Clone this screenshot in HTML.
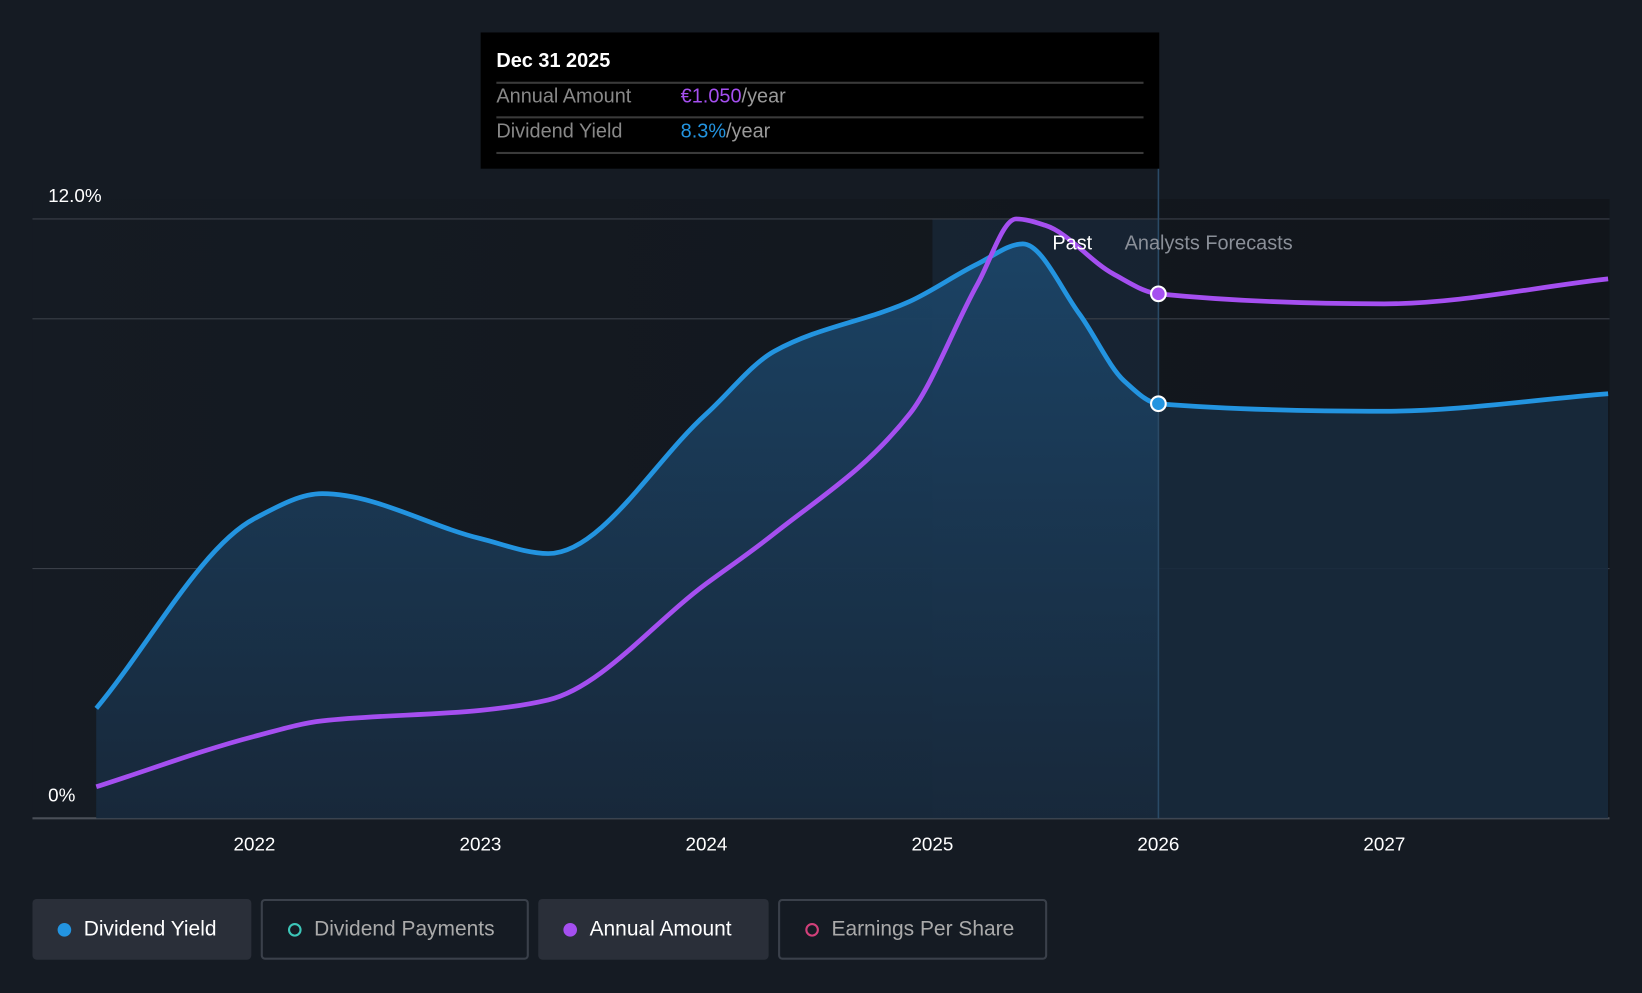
<!DOCTYPE html>
<html><head><meta charset="utf-8"><style>
html,body{margin:0;padding:0;background:#151b23;overflow:hidden}
#wrap{position:absolute;left:0;top:0;width:1568px;height:943px;transform-origin:0 0;transform:scale(1.04719,1.04772);font-family:"Liberation Sans",sans-serif}
.leg{position:absolute;top:858px;height:58px;border-radius:4px;box-sizing:border-box;display:flex;align-items:center;font-size:20px;color:#fff}
.dot{width:13px;height:13px;border-radius:50%;margin:0 12px 0 24px;box-sizing:border-box}
</style></head><body>
<div id="wrap">
<svg id="chart" width="1568" height="943"></svg>
<div style="position:absolute;left:459px;top:31px;width:648px;height:130px;background:#000">
 <div style="position:absolute;left:15px;top:17px;color:#fff;font-size:19px;font-weight:bold">Dec 31 2025</div>
 <div style="position:absolute;left:15px;right:15px;top:47px;border-top:2px solid #3a3a3a"></div>
 <div style="position:absolute;left:15px;top:51px;color:#888;font-size:19px">Annual Amount</div>
 <div style="position:absolute;left:191px;top:51px;color:#999;font-size:19px"><span style="color:#a54ff0">€1.050</span>/year</div>
 <div style="position:absolute;left:15px;right:15px;top:80px;border-top:2px solid #3a3a3a"></div>
 <div style="position:absolute;left:15px;top:84px;color:#888;font-size:19px">Dividend Yield</div>
 <div style="position:absolute;left:191px;top:84px;color:#999;font-size:19px"><span style="color:#2394e0">8.3%</span>/year</div>
 <div style="position:absolute;left:15px;right:15px;top:114px;border-top:2px solid #3a3a3a"></div>
</div>
<div class="leg" style="left:31px;width:209px;background:#2a2f39"><span class="dot" style="background:#2394e0"></span>Dividend Yield</div>
<div class="leg" style="left:249px;width:256px;border:2px solid #3a404a;color:#aaa"><span class="dot" style="border:2px solid #3cc6b8"></span>Dividend Payments</div>
<div class="leg" style="left:514px;width:220px;background:#2a2f39"><span class="dot" style="background:#a54ff0"></span>Annual Amount</div>
<div class="leg" style="left:743px;width:257px;border:2px solid #3a404a;color:#aaa"><span class="dot" style="border:2px solid #d2407a"></span>Earnings Per Share</div>
</div>
<script>
const yieldYears=[2021.3,2022,2022.3,2023,2023.3,2024,2024.3,2024.9,2025.2,2025.4,2025.65,2025.85,2026,2027,2027.99];
const yieldValues=[2.2,6.0,6.5,5.6,5.3,8.1,9.35,10.35,11.1,11.5,10.1,8.75,8.3,8.15,8.5];
const amountYears=[2021.3,2022,2022.3,2023,2023.3,2024,2024.3,2024.9,2025.2,2025.37,2025.5,2025.8,2026,2027,2027.99];
const amountValues=[0.063,0.164,0.195,0.216,0.237,0.47,0.57,0.81,1.07,1.2,1.187,1.09,1.05,1.03,1.08];
const xTicks=[2022,2023,2024,2025,2026,2027];
const yTicks=[0,5,10,12];
const NS="http://www.w3.org/2000/svg";
const svg=document.getElementById('chart');
const X=y=>243+(y-2022)*215.8;
const Y=v=>781-v*47.67;
const YA=v=>781-v*476.7;
function el(t,a,p){const e=document.createElementNS(NS,t);for(const k in a)e.setAttribute(k,a[k]);(p||svg).appendChild(e);return e;}
function mono(p){const n=p.length,dx=[],s=[],m=[];for(let i=0;i<n-1;i++){dx[i]=p[i+1][0]-p[i][0];s[i]=(p[i+1][1]-p[i][1])/dx[i];}
m[0]=s[0];m[n-1]=s[n-2];for(let i=1;i<n-1;i++){m[i]=s[i-1]*s[i]<=0?0:3*(dx[i-1]+dx[i])/((2*dx[i]+dx[i-1])/s[i-1]+(dx[i]+2*dx[i-1])/s[i]);}
let d=`M${p[0][0]},${p[0][1]}`;for(let i=0;i<n-1;i++){const h=dx[i]/3;d+=`C${p[i][0]+h},${p[i][1]+m[i]*h} ${p[i+1][0]-h},${p[i+1][1]-m[i+1]*h} ${p[i+1][0]},${p[i+1][1]}`;}return d;}
const defs=el('defs',{});
const g=el('linearGradient',{id:'ag',x1:0,y1:0,x2:0,y2:1},defs);
el('stop',{offset:0,'stop-color':'#1d4f78','stop-opacity':0.85},g);
el('stop',{offset:1,'stop-color':'#17283a','stop-opacity':0.8},g);
const bg=el('linearGradient',{id:'bg',x1:0,y1:0,x2:1,y2:0},defs);
el('stop',{offset:0,'stop-color':'#151b23'},bg);el('stop',{offset:1,'stop-color':'#11151b'},bg);
el('clipPath',{id:'cp'},defs).appendChild(document.createElementNS(NS,'rect'));
const cr=defs.querySelector('#cp rect');cr.setAttribute('x',0);cr.setAttribute('y',0);cr.setAttribute('width',X(2026));cr.setAttribute('height',943);
el('rect',{x:31,y:190,width:1506,height:591,fill:'url(#bg)'});
const past=el('rect',{x:X(2025),y:209,width:X(2026)-X(2025),height:572,fill:'#1a2a3a','fill-opacity':0.7});

yTicks.forEach(t=>{const l=el('line',{x1:31,x2:1537,y1:Y(t),y2:Y(t),stroke:t==0?'#4a4f58':'#3a3f48','stroke-width':t==0?2:1});});
[[0,'0%'],[12,'12.0%']].forEach(([v,s])=>{const t=el('text',{x:46,y:Y(v)-16,fill:'#fff','font-size':18});t.textContent=s;});
const yp=yieldYears.map((y,i)=>[X(y),Y(yieldValues[i])]);
const ap=amountYears.map((y,i)=>[X(y),YA(amountValues[i])]);
const areaD=mono(yp)+`L${yp[yp.length-1][0]},781L${yp[0][0]},781Z`;
const area=el('path',{d:areaD,fill:'#182a3d','fill-opacity':0.9});

const area2=el('path',{d:areaD,fill:'url(#ag)','fill-opacity':0.8,'clip-path':'url(#cp)'});

const vl=el('line',{x1:X(2026),x2:X(2026),y1:161,y2:781,stroke:'#2a4a66','stroke-width':1.5});

const ly=el('path',{d:mono(yp),fill:'none',stroke:'#2394e0','stroke-width':4.5});

const la=el('path',{d:mono(ap),fill:'none',stroke:'#a54ff0','stroke-width':4.5});

const iy=yieldYears.indexOf(2026),ia=amountYears.indexOf(2026);
const c1=el('circle',{cx:X(2026),cy:Y(yieldValues[iy]),r:7,fill:'#2394e0',stroke:'#fff','stroke-width':2});

const c2=el('circle',{cx:X(2026),cy:YA(amountValues[ia]),r:7,fill:'#a54ff0',stroke:'#fff','stroke-width':2});

xTicks.forEach(t=>{const e=el('text',{x:X(t),y:812,fill:'#fff','font-size':18,'text-anchor':'middle'});e.textContent=t;});
const tp=el('text',{x:1043,y:238,fill:'#fff','font-size':19,'text-anchor':'end'});tp.textContent='Past';

const tf=el('text',{x:1074,y:238,fill:'#8a8f98','font-size':19});tf.textContent='Analysts Forecasts';

</script>
</body></html>
